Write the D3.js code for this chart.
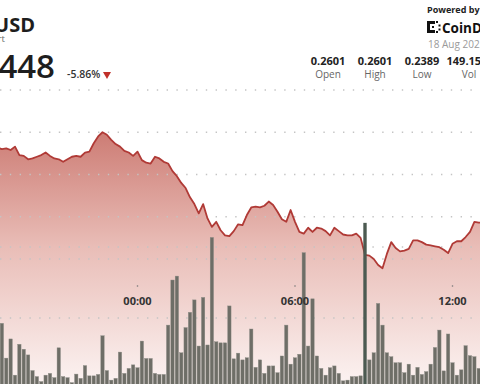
<!DOCTYPE html>
<html lang="en">
<head>
<meta charset="UTF-8">
<title>HBAR/USD</title>
<script src="https://d3js.org/d3.v7.min.js"></script>
<style>
    body { margin: 0; background: #fff; }
    svg { display: block; font-family: "Open Sans", sans-serif; }
    .grid line { stroke: #c4c4c4; stroke-width: 1.4; stroke-dasharray: 1.4 8.4; }
    .stat-val { font-size: 11px; font-weight: 700; fill: #222; text-anchor: middle; }
    .stat-lbl { font-size: 10px; fill: #666; text-anchor: middle; }
    .tlabel { font-size: 11px; font-weight: 700; fill: #333; text-anchor: middle; }
</style>
</head>
<body>
<svg width="480" height="384"></svg>
<script>
// 10-minute candles, starting 17 Aug 18:40
var startTime = new Date(2025, 7, 17, 18, 40);
var stepMin = 10;

var prices = [
    0.2532, 0.2530, 0.2531, 0.2529, 0.2533, 0.2523, 0.2522, 0.2518, 0.2519, 0.2521,
    0.2523, 0.2526, 0.2522, 0.2519, 0.2518, 0.2515, 0.2518, 0.2521, 0.2522, 0.2521,
    0.2526, 0.2527, 0.2537, 0.2545, 0.2550, 0.2547, 0.2541, 0.2536, 0.2533, 0.2528,
    0.2526, 0.2522, 0.2527, 0.2517, 0.2514, 0.2513, 0.2521, 0.2519, 0.2515, 0.2513,
    0.2504, 0.2498, 0.2490, 0.2484, 0.2473, 0.2465, 0.2454, 0.2465, 0.2448, 0.2438,
    0.2444, 0.2434, 0.2428, 0.2427, 0.2433, 0.2441, 0.2440, 0.2452, 0.2461, 0.2462,
    0.2461, 0.2463, 0.2468, 0.2464, 0.2456, 0.2447, 0.2444, 0.2458, 0.2444, 0.2432,
    0.2430, 0.2437, 0.2432, 0.2437, 0.2436, 0.2433, 0.2428, 0.2437, 0.2433, 0.2429,
    0.2428, 0.2428, 0.2430, 0.2425, 0.2405, 0.2404, 0.2400, 0.2393, 0.2389, 0.2406,
    0.2420, 0.2413, 0.2409, 0.2410, 0.2412, 0.2422, 0.2422, 0.2420, 0.2417, 0.2416,
    0.2415, 0.2414, 0.2411, 0.2407, 0.2418, 0.2421, 0.2421, 0.2426, 0.2432, 0.2444,
    0.2443, 0.2443
];

// volume per candle, millions
var volumes = [
    0.82, 1.85, 0.87, 1.41, 0.39, 1.26, 1.12, 0.96, 0.52, 0.35,
    0.21, 0.39, 0.44, 0.32, 1.16, 0.35, 0.32, 0.18, 0.42, 0.30,
    0.66, 0.37, 0.37, 0.41, 1.50, 0.52, 0.25, 0.30, 1.04, 0.44,
    0.58, 0.68, 0.60, 1.35, 0.86, 0.86, 0.44, 0.41, 0.41, 1.80,
    3.07, 3.18, 1.02, 1.73, 2.16, 2.51, 1.21, 2.58, 1.24, 4.27,
    1.33, 1.30, 1.30, 2.34, 0.85, 1.01, 0.82, 0.88, 1.69, 0.61,
    0.82, 0.44, 0.65, 0.65, 0.46, 0.93, 1.80, 0.70, 0.88, 0.98,
    3.84, 1.21, 2.54, 0.93, 0.58, 0.39, 0.60, 0.65, 0.44, 0.23,
    0.25, 0.35, 0.35, 0.37, 4.68, 0.82, 1.02, 2.41, 1.80, 1.02,
    0.91, 0.74, 0.74, 0.46, 0.70, 0.39, 0.61, 0.41, 0.49, 0.70,
    1.17, 1.66, 0.51, 1.55, 0.74, 0.39, 0.54, 1.22, 0.94, 0.91,
    0.58, 0.82
];
var activeBar = 84;

var priceTicks = [0.24, 0.245, 0.25, 0.255, 0.26];
var volumeTicks = [2, 4];
var timeTicks = ["00:00", "06:00", "12:00"];

var stats = [
    { label: "Open", value: "0.2601" },
    { label: "High", value: "0.2601" },
    { label: "Low", value: "0.2389" },
    { label: "Vol", value: "149.15M" }
];

var svg = d3.select("svg");

var times = prices.map(function(d, i) { return d3.timeMinute.offset(startTime, i * stepMin); });

var x = d3.scaleTime()
    .domain([new Date(2025, 7, 18, 0, 0), new Date(2025, 7, 18, 12, 0)])
    .range([137.5, 452.5]);
var y = d3.scaleLinear().domain([0.24, 0.26]).range([259, 90]);
var yv = d3.scaleLinear().domain([0, 4]).range([389, 247]);

var step = x(times[1]) - x(times[0]);
var barW = step - 1;

// gradient for area
var defs = svg.append("defs");
var grad = defs.append("linearGradient")
    .attr("id", "areaGrad")
    .attr("gradientUnits", "userSpaceOnUse")
    .attr("x1", 0).attr("y1", 125).attr("x2", 0).attr("y2", 395);
grad.append("stop").attr("offset", 0).attr("stop-color", "#cb7870");
grad.append("stop").attr("offset", 0.45).attr("stop-color", "#e9bdb7");
grad.append("stop").attr("offset", 1).attr("stop-color", "#fdf7f6");

var area = d3.area()
    .x(function(d, i) { return x(times[i]); })
    .y0(384)
    .y1(function(d) { return y(d); });

var line = d3.line()
    .x(function(d, i) { return x(times[i]); })
    .y(function(d) { return y(d); });

svg.append("path")
    .datum(prices)
    .attr("d", area)
    .attr("fill", "url(#areaGrad)");

// gridlines
var grid = svg.append("g").attr("class", "grid");
grid.selectAll("line.p")
    .data(priceTicks)
    .enter().append("line")
    .attr("class", "p")
    .attr("x1", 0).attr("x2", 480)
    .attr("y1", function(d) { return y(d); })
    .attr("y2", function(d) { return y(d); });
grid.selectAll("line.v")
    .data(volumeTicks)
    .enter().append("line")
    .attr("class", "v")
    .attr("x1", 0).attr("x2", 480)
    .attr("y1", function(d) { return yv(d); })
    .attr("y2", function(d) { return yv(d); });

svg.append("path")
    .datum(prices)
    .attr("d", line)
    .attr("fill", "none")
    .attr("stroke", "#b03a36")
    .attr("stroke-width", 1.8)
    .attr("stroke-linejoin", "round");

// volume bars
svg.append("g")
    .selectAll("rect")
    .data(volumes)
    .enter().append("rect")
    .attr("x", function(d, i) { return x(times[i]) - barW / 2; })
    .attr("width", barW)
    .attr("y", function(d) { return yv(d); })
    .attr("height", function(d) { return yv(0) - yv(d); })
    .attr("fill", function(d, i) { return i === activeBar ? "#4c5a51" : "#6e6e67"; })
    .attr("stroke", function(d, i) { return i === activeBar ? "none" : "#8c8c85"; })
    .attr("stroke-width", 0.4);

// time axis labels
var tg = svg.append("g");
timeTicks.forEach(function(t) {
    var p = t.split(":");
    var xx = x(new Date(2025, 7, 18, +p[0], +p[1]));
    tg.append("circle").attr("cx", xx).attr("cy", 286).attr("r", 0.8).attr("fill", "#777");
    tg.append("text").attr("class", "tlabel").attr("x", xx).attr("y", 305).text(t);
});

// header
svg.append("text")
    .attr("x", 35).attr("y", 32)
    .attr("text-anchor", "end")
    .style("font-size", "20px").style("font-weight", 700).style("fill", "#1e1e1e")
    .text("HBAR/USD");
svg.append("text")
    .attr("x", 5).attr("y", 42)
    .attr("text-anchor", "end")
    .style("font-size", "9.5px").style("fill", "#666")
    .text("Chart");
svg.append("text")
    .attr("x", 55).attr("y", 78)
    .attr("text-anchor", "end")
    .style("font-size", "33px").style("font-weight", 600).style("fill", "#1e1e1e")
    .text("0.2448");
svg.append("text")
    .attr("x", 67).attr("y", 78)
    .style("font-size", "10.5px").style("font-weight", 600).style("fill", "#333")
    .text("-5.86%");
svg.append("path")
    .attr("d", "M103,72 L111,72 L107,79 Z")
    .attr("fill", "#c0302a");

// powered by
svg.append("text")
    .attr("x", 427).attr("y", 13)
    .style("font-size", "9px").style("font-weight", 700).style("fill", "#222")
    .text("Powered by");
var logo = svg.append("g").attr("fill", "#111");
logo.append("rect").attr("x", 427).attr("y", 21).attr("width", 3).attr("height", 12);
logo.append("rect").attr("x", 427).attr("y", 21).attr("width", 8).attr("height", 3);
logo.append("rect").attr("x", 427).attr("y", 30).attr("width", 8).attr("height", 3);
logo.append("rect").attr("x", 436).attr("y", 21).attr("width", 2).attr("height", 2);
logo.append("rect").attr("x", 436).attr("y", 31).attr("width", 2).attr("height", 2);
logo.append("rect").attr("x", 432).attr("y", 26).attr("width", 2).attr("height", 2);
logo.append("rect").attr("x", 438.5).attr("y", 24.5).attr("width", 2).attr("height", 2);
logo.append("rect").attr("x", 438.5).attr("y", 28.5).attr("width", 2).attr("height", 2);
svg.append("text")
    .attr("x", 442).attr("y", 33)
    .style("font-size", "13.5px").style("font-weight", 700).style("fill", "#111")
    .text("CoinDesk");
svg.append("text")
    .attr("x", 428).attr("y", 48)
    .style("font-size", "10px").style("fill", "#9a9a9a")
    .text("18 Aug 2025");

var sg = svg.append("g");
stats.forEach(function(s, i) {
    var cx = 328 + i * 47;
    sg.append("text").attr("class", "stat-val").attr("x", cx).attr("y", 65).text(s.value);
    sg.append("text").attr("class", "stat-lbl").attr("x", cx).attr("y", 78).text(s.label);
});
</script>
</body>
</html>
